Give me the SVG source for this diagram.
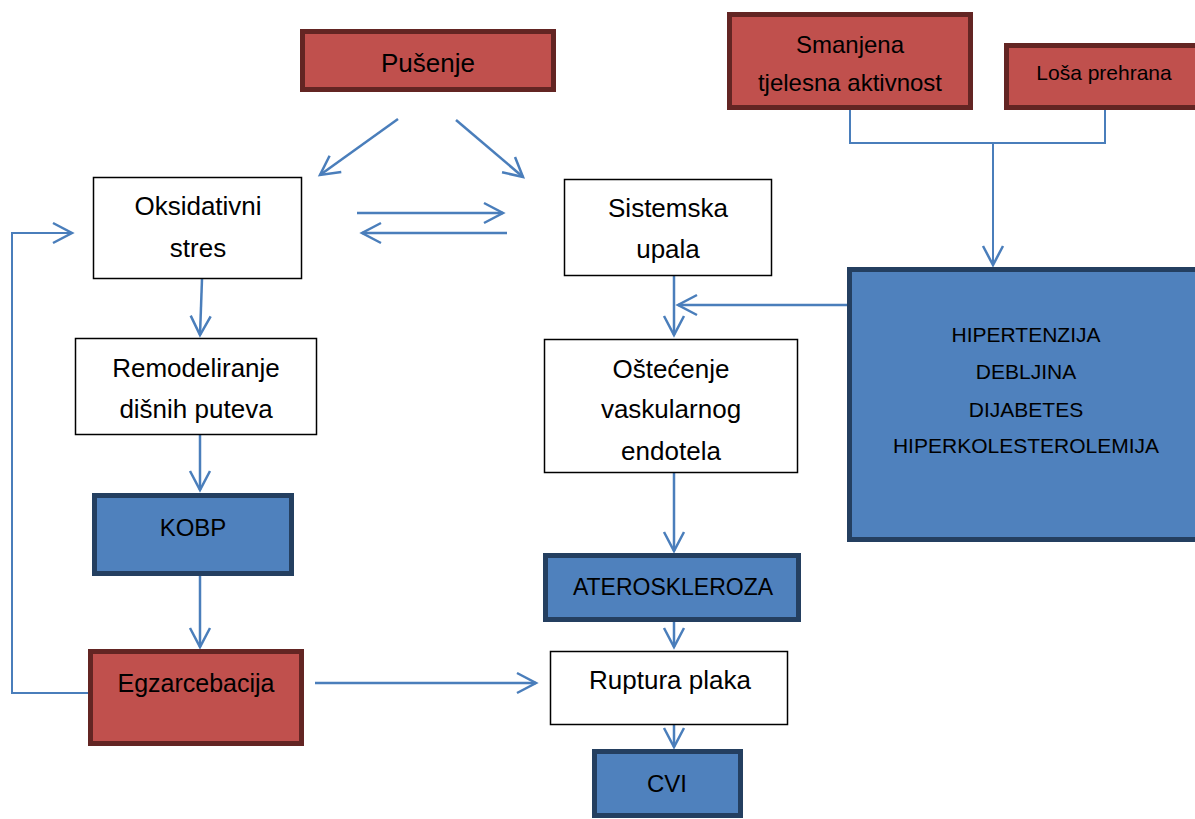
<svg xmlns="http://www.w3.org/2000/svg" width="1195" height="819" viewBox="0 0 1195 819">
<style>
  .red{fill:#C0504D;stroke:#632523;stroke-width:5}
  .blue{fill:#4F81BD;stroke:#243F60;stroke-width:5}
  .plain{fill:#FFFFFF;stroke:#000000;stroke-width:1.5}
  .t{font-family:"Liberation Sans",Arial,sans-serif;fill:#000;text-anchor:middle}
  .c{fill:none;stroke:#4A7EBB;stroke-width:2.5}
  .thin{fill:none;stroke:#4A7EBB;stroke-width:2}
</style>
<defs>
  <marker id="arr" viewBox="-3 -3 25 26" markerUnits="userSpaceOnUse" markerWidth="25" markerHeight="26" refX="19" refY="10" orient="auto">
    <path d="M0,0 L19,10 L0,20" fill="none" stroke="#4A7EBB" stroke-width="2.5"/>
  </marker>
</defs>
<rect width="1195" height="819" fill="#FFFFFF"/>

<g id="connectors">
  <path class="c" d="M398,119 L320,175" marker-end="url(#arr)"/>
  <path class="c" d="M456,120 L523,177" marker-end="url(#arr)"/>
  <path class="c" d="M357,213 L503,213" marker-end="url(#arr)"/>
  <path class="c" d="M507,233 L362,233" marker-end="url(#arr)"/>
  <path class="c" d="M202,279 L200,335" marker-end="url(#arr)"/>
  <path class="c" d="M200,435 L200,490" marker-end="url(#arr)"/>
  <path class="c" d="M200,576 L200,647" marker-end="url(#arr)"/>
  <path class="thin" d="M94,693 L12,693 L12,233 L72,233" marker-end="url(#arr)"/>
  <path class="c" d="M315,683 L536,683" marker-end="url(#arr)"/>
  <path class="thin" d="M850,110 L850,143 L1105,143 L1105,110"/>
  <path class="thin" d="M993,143 L993,265" marker-end="url(#arr)"/>
  <path class="c" d="M850,305 L678,305" marker-end="url(#arr)"/>
  <path class="c" d="M674,276 L674,335" marker-end="url(#arr)"/>
  <path class="c" d="M674,473 L674,551" marker-end="url(#arr)"/>
  <path class="c" d="M674,622 L674,647" marker-end="url(#arr)"/>
  <path class="c" d="M674,725 L674,747" marker-end="url(#arr)"/>
</g>

<g id="pusenje">
  <rect class="red" x="302.5" y="31.5" width="251" height="58"/>
  <text class="t" x="428" y="72" font-size="26">Pušenje</text>
</g>
<g id="smanjena">
  <rect class="red" x="729.5" y="14.5" width="241" height="93"/>
  <text class="t" x="850" y="53" font-size="24">Smanjena</text>
  <text class="t" x="850" y="91" font-size="24">tjelesna aktivnost</text>
</g>
<g id="losa">
  <rect class="red" x="1006.5" y="45.5" width="200" height="62"/>
  <text class="t" x="1104" y="80" font-size="21">Loša prehrana</text>
</g>
<g id="oksidativni">
  <rect class="plain" x="93.5" y="177.5" width="208" height="101"/>
  <text class="t" x="198" y="215" font-size="26">Oksidativni</text>
  <text class="t" x="198" y="257" font-size="26">stres</text>
</g>
<g id="sistemska">
  <rect class="plain" x="564.5" y="179.5" width="207" height="96"/>
  <text class="t" x="668" y="217" font-size="26">Sistemska</text>
  <text class="t" x="668" y="258" font-size="26">upala</text>
</g>
<g id="hipertenzija">
  <rect class="blue" x="849.5" y="269.5" width="360" height="270"/>
  <text class="t" x="1026" y="342" font-size="21">HIPERTENZIJA</text>
  <text class="t" x="1026" y="379" font-size="21">DEBLJINA</text>
  <text class="t" x="1026" y="417" font-size="21">DIJABETES</text>
  <text class="t" x="1026" y="453" font-size="21">HIPERKOLESTEROLEMIJA</text>
</g>
<g id="remodeliranje">
  <rect class="plain" x="75.5" y="338.5" width="241" height="96"/>
  <text class="t" x="196" y="377" font-size="26">Remodeliranje</text>
  <text class="t" x="196" y="418" font-size="26">dišnih puteva</text>
</g>
<g id="ostecenje">
  <rect class="plain" x="544.5" y="339.5" width="253" height="133"/>
  <text class="t" x="671" y="378" font-size="26">Oštećenje</text>
  <text class="t" x="671" y="418" font-size="26">vaskularnog</text>
  <text class="t" x="671" y="460" font-size="26">endotela</text>
</g>
<g id="kobp">
  <rect class="blue" x="94.5" y="495.5" width="197" height="78"/>
  <text class="t" x="193" y="536" font-size="24">KOBP</text>
</g>
<g id="ateroskleroza">
  <rect class="blue" x="545.5" y="555.5" width="253" height="64"/>
  <text class="t" x="673" y="595" font-size="23">ATEROSKLEROZA</text>
</g>
<g id="egzarcebacija">
  <rect class="red" x="90.5" y="651.5" width="211" height="92"/>
  <text class="t" x="196" y="692" font-size="25">Egzarcebacija</text>
</g>
<g id="ruptura">
  <rect class="plain" x="550.5" y="651.5" width="237" height="73"/>
  <text class="t" x="670" y="689" font-size="26">Ruptura plaka</text>
</g>
<g id="cvi">
  <rect class="blue" x="594.5" y="751.5" width="146" height="64"/>
  <text class="t" x="667" y="792" font-size="24">CVI</text>
</g>
</svg>
